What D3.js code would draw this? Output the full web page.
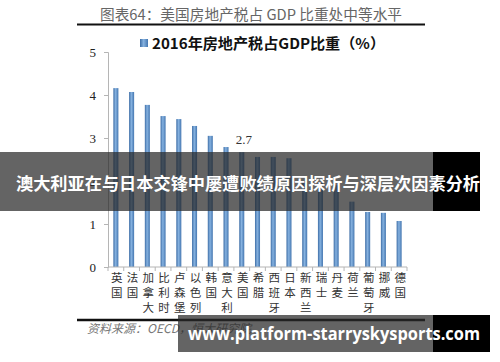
<!DOCTYPE html>
<html lang="zh">
<head>
<meta charset="utf-8">
<script src="https://d3js.org/d3.v7.min.js"></script>
<style>
  body { margin: 0; background: #fff; }
  svg { display: block; }
</style>
</head>
<body>
<script>
// data
const countries = ["英国", "法国", "加拿大", "比利时", "卢森堡", "以色列", "韩国", "意大利", "美国",
  "希腊", "西班牙", "日本", "新西兰", "瑞士", "丹麦", "荷兰", "葡萄牙", "挪威", "德国"];
const taxShare = [4.16, 4.07, 3.77, 3.51, 3.44, 3.28, 3.05, 2.79, 2.67,
  2.56, 2.56, 2.53, 2.0, 1.95, 1.9, 1.52, 1.28, 1.26, 1.07];
const yTicks = [0, 1, 2, 3, 4, 5];
const labelled = {"美国": "2.7"};

const width = 500, height = 362;
const cjk = "'Noto Sans CJK SC', 'Noto Sans', sans-serif";

const svg = d3.select("body").append("svg")
  .attr("width", width).attr("height", height);

const defs = svg.append("defs");
const grad = defs.append("linearGradient").attr("id", "barGrad")
  .attr("x1", "0%").attr("x2", "100%").attr("y1", "0%").attr("y2", "0%");
grad.append("stop").attr("offset", "0%").attr("stop-color", "#3d6da6");
grad.append("stop").attr("offset", "45%").attr("stop-color", "#86b2e0");
grad.append("stop").attr("offset", "100%").attr("stop-color", "#4476b0");

// title + rules
svg.append("text")
  .attr("x", 251).attr("y", 20)
  .attr("text-anchor", "middle")
  .attr("font-family", cjk).attr("font-size", 14.5)
  .attr("fill", "#666")
  .attr("textLength", 302).attr("lengthAdjust", "spacingAndGlyphs")
  .text("图表64：美国房地产税占 GDP 比重处中等水平");
svg.append("line").attr("x1", 77).attr("x2", 425).attr("y1", 24.5).attr("y2", 24.5)
  .attr("stroke", "#111").attr("stroke-width", 2);
svg.append("line").attr("x1", 77).attr("x2", 425).attr("y1", 320).attr("y2", 320)
  .attr("stroke", "#111").attr("stroke-width", 2.5);

// legend
svg.append("rect").attr("x", 140).attr("y", 39).attr("width", 8).attr("height", 8)
  .attr("fill", "url(#barGrad)");
svg.append("text")
  .attr("x", 152).attr("y", 48.5)
  .attr("font-family", cjk).attr("font-size", 14.5).attr("font-weight", "bold")
  .attr("fill", "#111")
  .attr("textLength", 233).attr("lengthAdjust", "spacingAndGlyphs")
  .text("2016年房地产税占GDP比重（%）");

// scales
const x = d3.scaleBand().domain(countries).range([108, 407])
  .paddingInner(0.68).paddingOuter(0.34);
const y = d3.scaleLinear().domain([0, 5]).range([267, 52]);

// y axis
const yAxis = svg.append("g").attr("transform", "translate(108,0)")
  .call(d3.axisLeft(y).tickValues(yTicks).tickSize(4).tickPadding(8).tickFormat(d3.format("d")));
yAxis.select(".domain").attr("stroke", "#b5b5b5");
yAxis.selectAll(".tick line").attr("stroke", "#b5b5b5");
yAxis.selectAll(".tick text").attr("font-family", "'Liberation Serif', serif")
  .attr("font-size", 13).attr("fill", "#222");

// bars
svg.append("g").selectAll("rect")
  .data(countries)
  .join("rect")
  .attr("x", d => x(d))
  .attr("y", (d, i) => y(taxShare[i]))
  .attr("width", x.bandwidth())
  .attr("height", (d, i) => y(0) - y(taxShare[i]))
  .attr("fill", "url(#barGrad)");

// data label
svg.append("g").selectAll("text")
  .data(countries.filter(c => labelled[c]))
  .join("text")
  .attr("x", d => x(d) + x.bandwidth() / 2 + 2)
  .attr("y", d => y(taxShare[countries.indexOf(d)]) - 8)
  .attr("text-anchor", "middle")
  .attr("font-family", "'Liberation Serif', serif").attr("font-size", 13)
  .attr("fill", "#333")
  .text(d => labelled[d]);

// x axis with ticks on category boundaries
const xg = svg.append("g");
xg.append("line").attr("x1", x.range()[0]).attr("x2", x.range()[1])
  .attr("y1", y(0)).attr("y2", y(0)).attr("stroke", "#b5b5b5");
const bounds = countries.map(c => x(c) - (x.step() - x.bandwidth()) / 2).concat([x.range()[1]]);
xg.selectAll("line.tk").data(bounds).join("line").attr("class", "tk")
  .attr("x1", d => d).attr("x2", d => d)
  .attr("y1", y(0)).attr("y2", y(0) + 4).attr("stroke", "#b5b5b5");

// vertical category labels
const lab = svg.append("g").selectAll("text")
  .data(countries)
  .join("text")
  .attr("text-anchor", "middle")
  .attr("font-family", cjk).attr("font-size", 11.5)
  .attr("fill", "#333");
lab.selectAll("tspan")
  .data(d => d.split("").map((ch, k) => ({ch, k, c: d})))
  .join("tspan")
  .attr("x", d => x(d.c) + x.bandwidth() / 2 + 1)
  .attr("y", d => 282 + d.k * 15)
  .text(d => d.ch);

// source
svg.append("text")
  .attr("x", 87).attr("y", 333)
  .attr("font-family", cjk).attr("font-size", 12).attr("font-style", "italic")
  .attr("fill", "#777")
  .text("资料来源：OECD，恒大研究院");

// overlay banner
svg.append("rect").attr("x", 0).attr("y", 152).attr("width", 433).attr("height", 59)
  .attr("fill", "rgb(40,40,40)").attr("fill-opacity", 0.72);
svg.append("rect").attr("x", 433).attr("y", 152).attr("width", 47).attr("height", 59)
  .attr("fill", "#000");
svg.append("text")
  .attr("x", 248).attr("y", 190)
  .attr("text-anchor", "middle")
  .attr("font-family", cjk).attr("font-size", 17).attr("font-weight", "bold")
  .attr("fill", "#fff")
  .attr("textLength", 464).attr("lengthAdjust", "spacingAndGlyphs")
  .text("澳大利亚在与日本交锋中屡遭败绩原因探析与深层次因素分析");

// bottom watermark
svg.append("rect").attr("x", 178).attr("y", 315).attr("width", 255).attr("height", 37)
  .attr("fill", "rgb(40,40,40)").attr("fill-opacity", 0.72);
svg.append("rect").attr("x", 433).attr("y", 315).attr("width", 57).attr("height", 37)
  .attr("fill", "#000");
svg.append("text")
  .attr("x", 188).attr("y", 340)
  .attr("font-family", "'Open Sans', 'DejaVu Sans', sans-serif").attr("font-size", 17).attr("font-weight", "bold")
  .attr("fill", "#fff")
  .attr("textLength", 292).attr("lengthAdjust", "spacingAndGlyphs")
  .text("www.platform-starryskysports.com");
</script>
</body>
</html>
